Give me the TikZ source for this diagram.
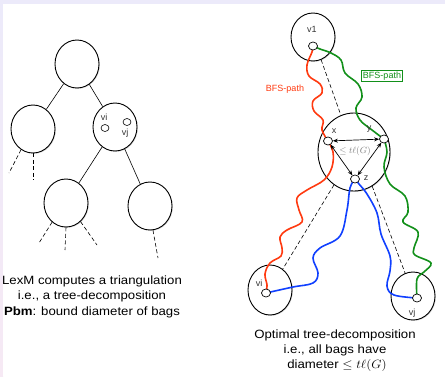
\documentclass[tikz,border=0pt]{standalone}
\usepackage{fontspec}
\setmainfont{Liberation Sans}
\usetikzlibrary{shapes.geometric,arrows.meta,shadows}
\definecolor{lav}{HTML}{ECEAFA}
\definecolor{pinkish}{HTML}{F6E9F4}
\definecolor{bfsred}{HTML}{FF3A10}
\definecolor{bfsgreen}{HTML}{12901A}
\definecolor{bfsblue}{HTML}{1040FF}
\definecolor{lblgray}{HTML}{333333}
\tikzset{
  bag/.style={ellipse, draw=black, line width=0.9pt, fill=white, inner sep=0pt,
    drop shadow={opacity=0.35, shadow xshift=0.8pt, shadow yshift=-0.8pt}},
  dot/.style={ellipse, draw=black, line width=0.7pt, fill=white, inner sep=0pt,
    minimum width=9pt, minimum height=8pt},
  sdot/.style={ellipse, draw=black, line width=0.6pt, fill=white, inner sep=0pt,
    minimum width=8pt, minimum height=7pt},
  tedge/.style={draw=black, line width=0.6pt},
  dedge/.style={draw=black, line width=0.6pt, dash pattern=on 4pt off 2.5pt},
  wavy/.style={line width=1.6pt, line join=round, line cap=round},
  lbl/.style={text=lblgray, font=\fontsize{9}{10}\selectfont, inner sep=0pt},
  captext/.style={anchor=base, inner sep=0pt, font=\fontsize{12}{14}\selectfont,
    xscale=1.1, transform shape},
  dbl/.style={{Stealth[length=5pt,width=4pt]}-{Stealth[length=5pt,width=4pt]}, line width=0.7pt},
}
\begin{document}
\begin{tikzpicture}[x=1pt,y=-1pt]
\useasboundingbox (0,0) rectangle (445,376);
% background frame
\fill[lav] (0,0) rectangle (445,376);
\shade[top color=lav, bottom color=pinkish] (0,0) rectangle (3,376);
\fill[white] (3,4) rectangle (445,376);

% ---------- left tree ----------
\node[bag, minimum width=44pt, minimum height=48pt] (root) at (77,64) {};
\node[bag, minimum width=44pt, minimum height=48pt] (lc) at (33,129) {};
\node[bag, minimum width=44pt, minimum height=48pt] (rc) at (115,127) {};
\node[bag, minimum width=44pt, minimum height=48pt] (bl) at (66,203) {};
\node[bag, minimum width=44pt, minimum height=48pt] (br) at (150,206) {};
\draw[tedge] (root) -- (lc);
\draw[tedge] (root) -- (rc);
\draw[tedge] (rc) -- (bl);
\draw[tedge] (rc) -- (br);
\coordinate (e1) at (9,173);
\coordinate (e2) at (33,180);
\coordinate (e3) at (39,243);
\coordinate (e4) at (65,250);
\coordinate (e5) at (97,245);
\coordinate (e6) at (158,258);
\draw[dedge] (lc.240) -- (e1);
\draw[dedge] (lc.270) -- (e2);
\draw[dedge] (bl.234) -- (e3);
\draw[dedge] (bl.270) -- (e4);
\draw[dedge] (bl.308) -- (e5);
\draw[dedge] (br.277) -- (e6);
\node[sdot] (lvi) at (105,128) {};
\node[sdot] (lvj) at (127,122) {};
\node[lbl] (lvit) at (104,117) {vi};
\node[lbl] (lvjt) at (125,133) {vj};

\node[captext] (t1) at (92,284) {LexM computes a triangulation};
\node[captext] (t2) at (92,299) {i.e., a tree-decomposition};
\node[captext] (t3) at (92,315) {\textbf{Pbm}: bound diameter of bags};

% ---------- right tree ----------
\node[bag, minimum width=44pt, minimum height=48pt] (v1) at (313,37) {};
\node[bag, minimum width=72pt, minimum height=78pt] (big) at (354,152) {};
\node[bag, minimum width=44pt, minimum height=50pt] (bi) at (270,290) {};
\node[bag, minimum width=44pt, minimum height=48pt] (bj) at (413,296) {};
\draw[dedge] (v1) -- (big);
\draw[dedge] (big) -- (bi);
\draw[dedge] (big.298) -- (bj.109);

\coordinate (cv1) at (313,46);
\coordinate (cx) at (328,141);
\coordinate (cy) at (384,139);
\coordinate (cz) at (355,179);
\coordinate (cvi) at (266,293);
\coordinate (cvj) at (417,298);

% red BFS path
\draw[wavy, bfsred] plot[smooth, tension=0.6] coordinates {(cv1) (312,52) (307,65) (309,76) (320,84) (322,93) (313,101) (314,111) (323,120) (322,130) (cx)};
\draw[wavy, bfsred] plot[smooth, tension=0.6] coordinates {(cx) (333,152) (332,167) (324,180) (307,190) (297,198) (299,210) (302,222) (287,230) (280,237) (282,248) (281,256) (270,263) (265,274) (267,285) (cvi)};
% green BFS path
\draw[wavy, bfsgreen] plot[smooth, tension=0.6] coordinates {(cv1) (320,49) (331,53) (341,60) (345,73) (358,84) (362,97) (356,108) (360,120) (372,130) (cy)};
\draw[wavy, bfsgreen] plot[smooth, tension=0.6] coordinates {(cy) (387,152) (384,167) (390,184) (405,196) (408,212) (403,222) (418,232) (414,248) (415,255) (431,263) (424,272) (417,279) (cvj)};
% blue paths
\draw[wavy, bfsblue] plot[smooth, tension=0.6] coordinates {(cz) (350,188) (347,210) (340,236) (320,248) (313,258) (318,273) (313,283) (293,287) (cvi)};
\draw[wavy, bfsblue] plot[smooth, tension=0.6] coordinates {(cz) (359,184) (367,194) (377,213) (381,234) (390,256) (390,271) (387,286) (394,295) (cvj)};

\node[dot] (sv1) at (cv1) {};
\node[dot] (sx) at (cx) {};
\node[dot] (sy) at (cy) {};
\node[dot] (sz) at (cz) {};
\node[dot] (svi) at (cvi) {};
\node[dot] (svj) at (cvj) {};

\draw[dbl] (sx) -- (sy);
\draw[dbl] (sx) -- (sz);
\draw[dbl] (sy) -- (sz);

\node[lbl] (v1t) at (312,29) {v1};
\node[lbl] (xt) at (334,131) {x};
\node[lbl] (yt) at (369,129) {y};
\node[lbl] (zt) at (366,178) {z};
\node[lbl] (vit) at (259,283) {vi};
\node[lbl] (vjt) at (412,313) {vj};
\node[inner sep=0pt, text=gray, font=\fontsize{9.5}{10}\selectfont] (le) at (355,151) {$\le t\ell(G)$};

\node[inner sep=0pt, text=bfsred, font=\fontsize{9}{10}\selectfont] (redl) at (285,89) {BFS-path};
\node[draw=bfsgreen, line width=0.7pt, inner sep=1.5pt, text=bfsgreen, font=\fontsize{9}{10}\selectfont] (grnl) at (382,76) {BFS-path};

\node[captext] (r1) at (335,338) {Optimal tree-decomposition};
\node[captext] (r2) at (335,353) {i.e., all bags have};
\node[captext] (r3) at (337,368) {diameter $\le t\ell(G)$};
\end{tikzpicture}
\end{document}
